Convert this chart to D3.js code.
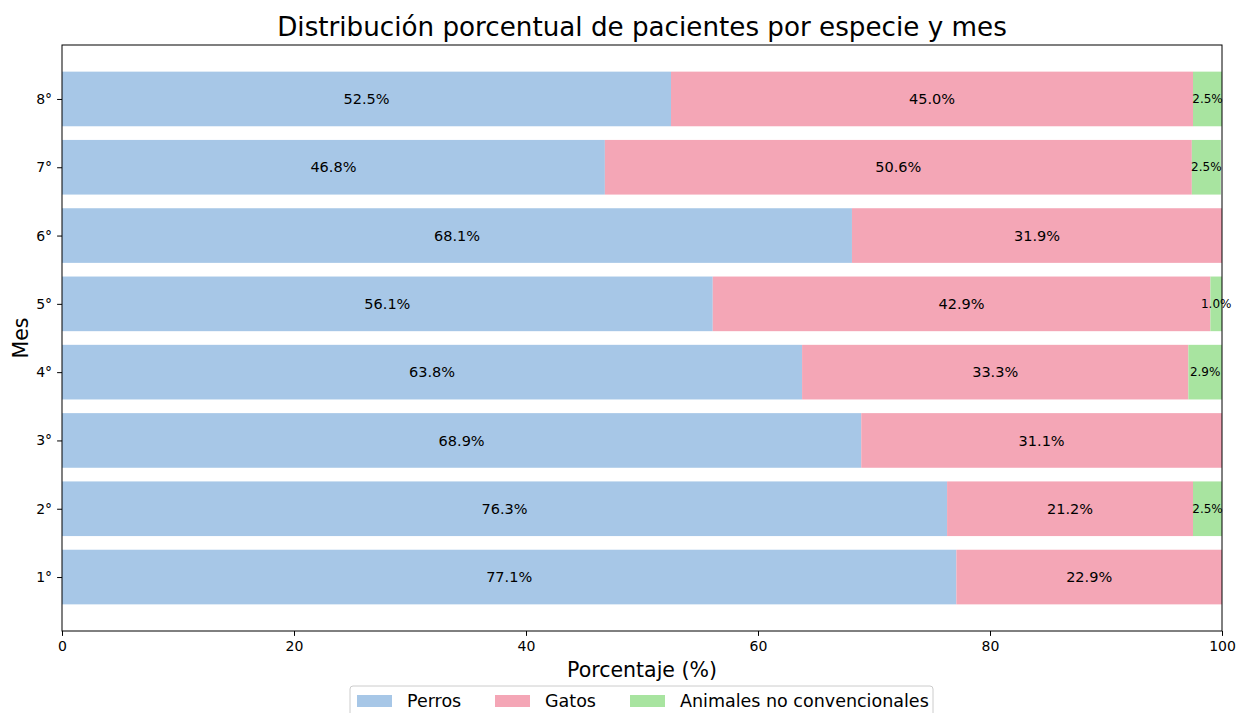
<!DOCTYPE html>
<html>
<head>
<meta charset="utf-8">
<script src="https://cdn.jsdelivr.net/npm/d3@7"></script>
<style>
  body { margin: 0; background: #fff; }
  text { font-family: "DejaVu Sans", sans-serif; fill: #000; }
</style>
</head>
<body>
<script>
// data
const meses = ["1°", "2°", "3°", "4°", "5°", "6°", "7°", "8°"];
const perros = [77.1, 76.3, 68.9, 63.8, 56.1, 68.1, 46.8, 52.5];
const gatos = [22.9, 21.2, 31.1, 33.3, 42.9, 31.9, 50.6, 45.0];
const noConv = [0, 2.5, 0, 2.9, 1.0, 0, 2.5, 2.5];
const especies = ["Perros", "Gatos", "Animales no convencionales"];
const colores = ["#a7c7e7", "#f4a6b6", "#a8e4a0"];
const xTicks = [0, 20, 40, 60, 80, 100];

const W = 1239, H = 713;
const m = {left: 62, right: 17, top: 45, bottom: 82};

const svg = d3.select("body").append("svg")
  .attr("width", W).attr("height", H);

const x = d3.scaleLinear().domain([0, 100]).range([m.left, W - m.right]);
// matplotlib-like y limits
const y = d3.scaleLinear().domain([-0.79, 7.79]).range([H - m.bottom, m.top]);
const bh = y(0) - y(0.8);

const series = [perros, gatos, noConv];

meses.forEach((mes, i) => {
  let acc = 0;
  series.forEach((s, k) => {
    const v = s[i];
    if (v > 0) {
      svg.append("rect")
        .attr("x", x(acc))
        .attr("y", y(i) - bh / 2)
        .attr("width", x(acc + v) - x(acc))
        .attr("height", bh)
        .attr("fill", colores[k]);
      svg.append("text")
        .attr("x", x(acc + v / 2))
        .attr("y", y(i))
        .attr("dy", "0.35em")
        .attr("text-anchor", "middle")
        .style("font-size", k == 2 ? "12px" : "14.5px")
        .text(v.toFixed(1) + "%");
    }
    acc += v;
  });
});

// frame
svg.append("rect")
  .attr("x", m.left).attr("y", m.top)
  .attr("width", x(100) - x(0)).attr("height", y(-0.79) - y(7.79))
  .attr("fill", "none").attr("stroke", "#000").attr("stroke-width", 1);

// x axis
const xAxis = d3.axisBottom(x).tickValues(xTicks).tickSize(4.9).tickPadding(5);
const gx = svg.append("g").attr("transform", `translate(0,${H - m.bottom})`).call(xAxis);
gx.select(".domain").remove();
gx.selectAll("text").style("font-size", "14px").style("font-family", "DejaVu Sans");

// y axis
const yAxis = d3.axisLeft(y).tickValues(d3.range(meses.length)).tickFormat(i => meses[i]).tickSize(4.9).tickPadding(5);
const gy = svg.append("g").attr("transform", `translate(${m.left},0)`).call(yAxis);
gy.select(".domain").remove();
gy.selectAll("text").style("font-size", "14px").style("font-family", "DejaVu Sans");

// titles
svg.append("text")
  .attr("x", (x(0) + x(100)) / 2).attr("y", 36)
  .attr("text-anchor", "middle")
  .style("font-size", "26.2px")
  .text("Distribución porcentual de pacientes por especie y mes");

svg.append("text")
  .attr("x", (x(0) + x(100)) / 2).attr("y", 677)
  .attr("text-anchor", "middle")
  .style("font-size", "20.5px")
  .text("Porcentaje (%)");

svg.append("text")
  .attr("transform", `translate(28,${(m.top + H - m.bottom) / 2}) rotate(-90)`)
  .attr("text-anchor", "middle")
  .style("font-size", "20.5px")
  .text("Mes");

// legend
const leg = svg.append("g");
leg.append("rect")
  .attr("x", 350).attr("y", 686).attr("width", 583).attr("height", 40)
  .attr("rx", 3)
  .attr("fill", "#fff").attr("stroke", "#ccc");
const legX = [357, 495, 630];
especies.forEach((e, k) => {
  leg.append("rect")
    .attr("x", legX[k]).attr("y", 695).attr("width", 35).attr("height", 12)
    .attr("fill", colores[k]);
  leg.append("text")
    .attr("x", legX[k] + 50).attr("y", 701)
    .attr("dy", "0.35em")
    .style("font-size", "17.5px")
    .text(e);
});
</script>
</body>
</html>
